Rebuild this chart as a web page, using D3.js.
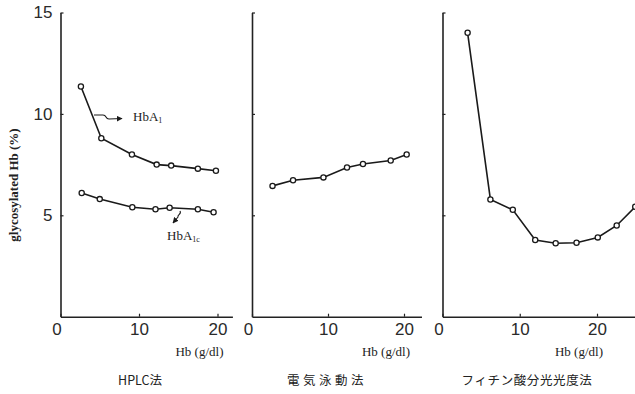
<!DOCTYPE html>
<html>
<head>
<meta charset="utf-8">
<script src="https://cdn.jsdelivr.net/npm/d3@7"></script>
<style>
  body { margin: 0; background: #fff; }
  svg { display: block; }
  .num { font-family: "Liberation Sans", "DejaVu Sans", sans-serif; font-size: 17px; fill: #2a2a2a; }
  .serif { font-family: "Liberation Serif", "DejaVu Serif", serif; fill: #222; }
  .jp { font-family: "Noto Sans CJK JP", sans-serif; fill: #222; }
</style>
</head>
<body>
<script>
// Values (x = Hb g/dl, y = glycosylated Hb %)
const hplcA1X  = [2.6, 5.2, 9.1, 12.25, 14.1, 17.5, 19.8];
const hplcA1Y  = [11.35, 8.8, 8.0, 7.5, 7.45, 7.3, 7.2];
const hplcA1cX = [2.7, 5.0, 9.15, 12.1, 13.9, 17.5, 19.5];
const hplcA1cY = [6.1, 5.8, 5.4, 5.3, 5.37, 5.3, 5.15];

const elecX = [2.7, 5.4, 9.4, 12.5, 14.6, 18.25, 20.35];
const elecY = [6.45, 6.73, 6.87, 7.36, 7.53, 7.7, 8.0];

const phytX = [3.25, 6.2, 9.1, 12.0, 14.65, 17.35, 20.1, 22.55, 24.95];
const phytY = [14.0, 5.78, 5.27, 3.78, 3.62, 3.65, 3.91, 4.5, 5.42];

const yTicks = [5, 10, 15];
const xTicks = [0, 10, 20];
const titles = ["HPLC法", "電気泳動法", "フィチン酸分光光度法"];

const width = 635, height = 394;

const svg = d3.select("body").append("svg")
    .attr("width", width)
    .attr("height", height);

// shared y scale
const y = d3.scaleLinear().domain([0, 15]).range([316.7, 12.5]);

// panel layout: origin, pixel for x=20, domain end
const panels = [
  {x0: 60.5, x20: 217.5, xEnd: 21.9, title: titles[0], tx: 140, ls: 0},
  {x0: 252,  x20: 404,   xEnd: 22.3, title: titles[1], tx: 327, ls: 3.5},
  {x0: 442.5, x20: 597,  xEnd: 26,   title: titles[2], tx: 527, ls: 0.6}
];

const line = d3.line();

panels.forEach(function(p, i) {
  p.x = d3.scaleLinear().domain([0, 20]).range([p.x0, p.x20]);
  const g = svg.append("g");

  // x axis
  const xAxis = d3.axisBottom(p.x.copy().domain([0, p.xEnd]).range([p.x0, p.x(p.xEnd)]))
      .tickValues(xTicks)
      .tickSizeInner(-3)
      .tickSizeOuter(0)
      .tickPadding(6);
  const gx = g.append("g")
      .attr("transform", "translate(0," + y(0) + ")")
      .call(xAxis);
  gx.select(".domain").attr("stroke", "#222").attr("stroke-width", 1.6);
  gx.selectAll(".tick line").attr("stroke", "#222").attr("stroke-width", 1.2);
  gx.selectAll(".tick text")
      .attr("class", "num")
      .attr("font-size", null).attr("font-family", null)
      .attr("dx", function(d){ return d === 0 ? -4 : 0; });

  // y axis
  const yAxis = d3.axisLeft(y)
      .tickValues(yTicks)
      .tickSizeInner(-3)
      .tickSizeOuter(0)
      .tickPadding(8)
      .tickFormat(i === 0 ? d3.format("d") : "");
  const gy = g.append("g")
      .attr("transform", "translate(" + p.x0 + ",0)")
      .call(yAxis);
  gy.select(".domain").attr("stroke", "#222").attr("stroke-width", 1.6);
  gy.selectAll(".tick line").attr("stroke", "#222").attr("stroke-width", 1.2);
  gy.selectAll(".tick text")
      .attr("class", "num")
      .attr("font-size", null).attr("font-family", null);

  // x label
  g.append("text")
      .attr("class", "serif")
      .attr("x", p.x(20) + 6)
      .attr("y", 356)
      .attr("text-anchor", "end")
      .style("font-size", "13px")
      .text("Hb (g/dl)");

  // panel title
  g.append("text")
      .attr("class", "jp")
      .attr("x", p.tx)
      .attr("y", 385)
      .attr("text-anchor", "middle")
      .style("font-size", "12.5px")
      .style("letter-spacing", p.ls + "px")
      .text(p.title);
});

// y axis title
svg.append("text")
    .attr("class", "serif")
    .attr("transform", "translate(18,185) rotate(-90)")
    .attr("text-anchor", "middle")
    .style("font-size", "13px")
    .style("font-weight", "bold")
    .text("glycosylated Hb (%)");

function drawSeries(xs, ys, sx) {
  const pts = xs.map(function(d, k){ return [sx(d), y(ys[k])]; });
  svg.append("path")
      .attr("d", line(pts))
      .attr("fill", "none")
      .attr("stroke", "#1a1a1a")
      .attr("stroke-width", 1.6);
  svg.append("g").selectAll("circle")
      .data(pts)
      .enter().append("circle")
      .attr("cx", function(d){ return d[0]; })
      .attr("cy", function(d){ return d[1]; })
      .attr("r", 2.6)
      .attr("fill", "#fff")
      .attr("stroke", "#1a1a1a")
      .attr("stroke-width", 1.3);
}

drawSeries(hplcA1X, hplcA1Y, panels[0].x);
drawSeries(hplcA1cX, hplcA1cY, panels[0].x);
drawSeries(elecX, elecY, panels[1].x);
drawSeries(phytX, phytY, panels[2].x);

// arrowhead marker
svg.append("defs").append("marker")
    .attr("id", "arr")
    .attr("viewBox", "0 0 10 10")
    .attr("refX", 9).attr("refY", 5)
    .attr("markerWidth", 6).attr("markerHeight", 6)
    .attr("markerUnits", "userSpaceOnUse")
    .attr("orient", "auto")
    .append("path")
    .attr("d", "M0,0 L10,5 L0,10 Z")
    .attr("fill", "#1a1a1a");

// HbA1 pointer and label
svg.append("path")
    .attr("d", "M94,115 L103,115 C107,115 105,119 109,119 L122,118.5")
    .attr("fill", "none").attr("stroke", "#1a1a1a").attr("stroke-width", 1.1)
    .attr("marker-end", "url(#arr)");
const a1 = svg.append("text").attr("class", "serif")
    .attr("x", 133).attr("y", 121).style("font-size", "13px");
a1.append("tspan").text("HbA");
a1.append("tspan").attr("dy", 2).style("font-size", "8px").text("1");

// HbA1c pointer and label
svg.append("path")
    .attr("d", "M180,211 C182,214 177,215 178,217 L173,223")
    .attr("fill", "none").attr("stroke", "#1a1a1a").attr("stroke-width", 1.1)
    .attr("marker-end", "url(#arr)");
const a1c = svg.append("text").attr("class", "serif")
    .attr("x", 167).attr("y", 240).style("font-size", "13px");
a1c.append("tspan").text("HbA");
a1c.append("tspan").attr("dy", 2).style("font-size", "8px").text("1c");
</script>
</body>
</html>
